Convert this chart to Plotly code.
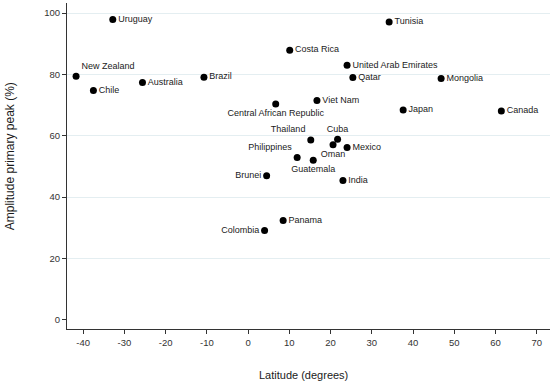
import plotly.graph_objects as go

countries = ["Uruguay", "New Zealand", "Chile", "Australia", "Brazil",
             "Central African Republic", "Brunei", "Colombia", "Panama",
             "Tunisia", "Costa Rica", "United Arab Emirates", "Qatar", "Mongolia",
             "Viet Nam", "Japan", "Canada", "Thailand", "Cuba", "Oman", "Mexico",
             "Philippines", "Guatemala", "India"]
latitude = [-32.8, -41.7, -37.5, -25.6, -10.7,
            6.7, 4.5, 4.0, 8.5,
            34.2, 10.1, 24.0, 25.4, 46.8,
            16.7, 37.6, 61.4, 15.2, 21.7, 20.6, 24.0,
            11.9, 15.8, 23.0]
amplitude = [97.9, 79.4, 74.8, 77.4, 79.1,
             70.4, 47.0, 29.1, 32.4,
             97.1, 87.9, 83.0, 79.0, 78.7,
             71.5, 68.4, 68.1, 58.6, 58.9, 57.1, 56.2,
             52.9, 52.0, 45.4]
label_pos = ["middle right", "top right", "middle right", "middle right", "middle right",
             "bottom center", "middle left", "middle left", "middle right",
             "middle right", "middle right", "middle right", "middle right", "middle right",
             "middle right", "middle right", "middle right", "top left", "top center",
             "bottom center", "middle right", "top left", "bottom center", "middle right"]

x_ticks = [-40, -30, -20, -10, 0, 10, 20, 30, 40, 50, 60, 70]
x_tick_text = ["-40", "-30", "-20", "-10", "0", "10", "20", "30", "40", "50", "60", "70"]
y_ticks = [0, 20, 40, 60, 80, 100]
x_title = "Latitude (degrees)"
y_title = "Amplitude primary peak (%)"

fig = go.Figure()
fig.add_trace(go.Scatter(
    x=latitude, y=amplitude, mode="markers+text",
    text=countries, textposition=label_pos,
    marker=dict(color="black", size=7),
    textfont=dict(family="Liberation Sans, Arial", size=9, color="#1a1a1a"),
    cliponaxis=False, showlegend=False,
))

axis_font = dict(family="Liberation Sans, Arial", size=9.5, color="#333")
fig.update_layout(
    width=550, height=385,
    margin=dict(l=67, r=0, t=3, b=56),
    paper_bgcolor="white", plot_bgcolor="white",
    xaxis=dict(
        range=[-43.9, 73.2], tickvals=x_ticks, ticktext=x_tick_text,
        showgrid=False, zeroline=False, automargin=False,
        showline=True, linecolor="#333", linewidth=1.2,
        ticks="outside", ticklen=4, tickcolor="#333", tickfont=axis_font,
    ),
    yaxis=dict(
        range=[-3.0, 103.3], tickvals=y_ticks, showgrid=True, gridcolor="#e4eef1", gridwidth=1,
        zeroline=True, zerolinecolor="white", zerolinewidth=1, automargin=False,
        showline=True, linecolor="#333", linewidth=1.2,
        ticks="outside", ticklen=4, tickcolor="#333", tickfont=axis_font,
    ),
    annotations=[
        dict(text=x_title, xref="paper", yref="paper", x=0.49, y=0, yshift=-46,
             xanchor="center", yanchor="middle", showarrow=False,
             font=dict(family="Liberation Sans, Arial", size=11, color="#1a1a1a")),
        dict(text=y_title, xref="paper", yref="paper", x=0, y=0.53, xshift=-57,
             xanchor="center", yanchor="middle", textangle=-90, showarrow=False,
             font=dict(family="Liberation Sans, Arial", size=12, color="#1a1a1a")),
    ],
)

fig.write_html("out.html", config={"displayModeBar": False},
               post_script="document.body.style.margin='0';")
